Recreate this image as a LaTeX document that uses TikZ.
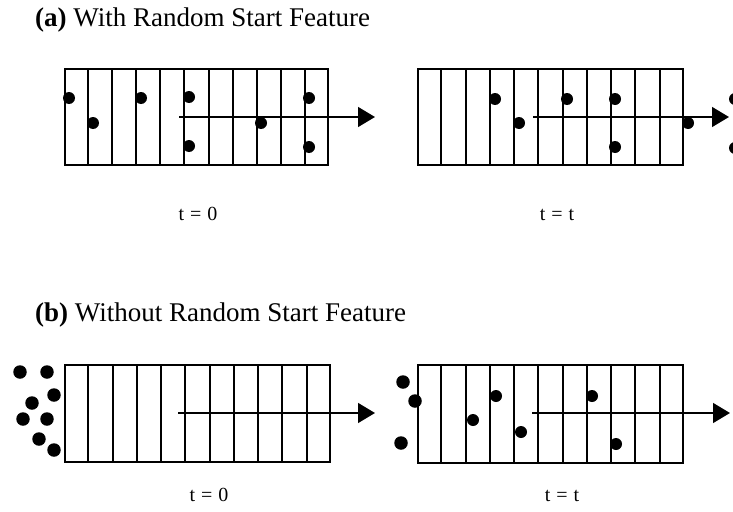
\documentclass[tikz,border=0pt]{standalone}
\usepackage{fontspec}
\setmainfont{Liberation Serif}
\usetikzlibrary{arrows.meta,calc}

\tikzset{
  stripbox/.style={draw, line width=2pt, inner sep=0pt, fill=white},
  cellline/.style={line width=2pt},
  flow/.style={line width=1.5pt, -{Triangle[length=17pt,width=20pt]}},
  dot/.style={circle, fill=black, draw=none, inner sep=0pt, minimum size=12pt},
  bigdot/.style={dot, minimum size=13.5pt},
  title/.style={anchor=base west, font=\fontsize{27}{30}\selectfont, inner sep=0pt},
  timelabel/.style={anchor=base, font=\fontsize{20}{23}\selectfont, inner sep=0pt}
}

% vertical partitions of a strip into eleven cells
\newcommand{\cellsof}[1]{%
  \foreach \i in {1,...,10}
    \draw[cellline] ($(#1.north west)!\i/11!(#1.north east)$) -- ($(#1.south west)!\i/11!(#1.south east)$);}
% time label text with slightly open spacing
\newcommand{\tlabel}[1]{t\hspace{0.3em}=\hspace{0.3em}#1}

\begin{document}
\begin{tikzpicture}[x=1pt,y=-1pt]
\useasboundingbox (0,0) rectangle (733,511);

% ---------- (a) with random start feature ----------
\node[title] (ta) at (35,27) {\textbf{(a)} With Random Start Feature};

\node[stripbox, minimum width=263pt, minimum height=96pt] (A0) at (196.5,117) {};
\cellsof{A0}
\node[stripbox, minimum width=265pt, minimum height=96pt] (A1) at (550.5,117) {};
\cellsof{A1}

\coordinate (A0s) at (179,117);
\coordinate (A0e) at (375,117);
\draw[flow] (A0s) -- (A0e);
\coordinate (A1s) at (533,117);
\coordinate (A1e) at (729,117);
\draw[flow] (A1s) -- (A1e);

% particles at t = 0
\node[dot] (a01) at (69,98) {};
\node[dot] (a02) at (93,123) {};
\node[dot] (a03) at (141,98) {};
\node[dot] (a04) at (189,97) {};
\node[dot] (a05) at (189,146) {};
\node[dot] (a06) at (261,123) {};
\node[dot] (a07) at (309,98) {};
\node[dot] (a08) at (309,147) {};

% particles at t = t
\node[dot] (a11) at (495,99) {};
\node[dot] (a12) at (519,123) {};
\node[dot] (a13) at (567,99) {};
\node[dot] (a14) at (615,99) {};
\node[dot] (a15) at (615,147) {};
\node[dot] (a16) at (688,123) {};
\node[dot] (a17) at (735,99) {};
\node[dot] (a18) at (735,148) {};

\node[timelabel] (la0) at (198,220) {\tlabel{0}};
\node[timelabel] (la1) at (557,220) {\tlabel{t}};

% ---------- (b) without random start feature ----------
\node[title] (tb) at (35,321) {\textbf{(b)} Without Random Start Feature};

\node[stripbox, minimum width=265pt, minimum height=97pt] (B0) at (197.5,413.5) {};
\cellsof{B0}
\node[stripbox, minimum width=265pt, minimum height=98pt] (B1) at (550.5,414) {};
\cellsof{B1}

\coordinate (B0s) at (178,413);
\coordinate (B0e) at (375,413);
\draw[flow] (B0s) -- (B0e);
\coordinate (B1s) at (532,413);
\coordinate (B1e) at (730,413);
\draw[flow] (B1s) -- (B1e);

% particles waiting at the entrance, t = 0
\node[bigdot] (b01) at (20,372) {};
\node[bigdot] (b02) at (47,372) {};
\node[bigdot] (b03) at (54,395) {};
\node[bigdot] (b04) at (32,403) {};
\node[bigdot] (b05) at (23,419) {};
\node[bigdot] (b06) at (47,419) {};
\node[bigdot] (b07) at (39,439) {};
\node[bigdot] (b08) at (54,450) {};

% particles at t = t
\node[bigdot] (b11) at (403,382) {};
\node[bigdot] (b12) at (415,401) {};
\node[bigdot] (b13) at (401,443) {};
\node[dot] (b14) at (496,396) {};
\node[dot] (b15) at (473,420) {};
\node[dot] (b16) at (521,432) {};
\node[dot] (b17) at (592,396) {};
\node[dot] (b18) at (616,444) {};

\node[timelabel] (lb0) at (209,501) {\tlabel{0}};
\node[timelabel] (lb1) at (562,501) {\tlabel{t}};
\end{tikzpicture}
\end{document}
